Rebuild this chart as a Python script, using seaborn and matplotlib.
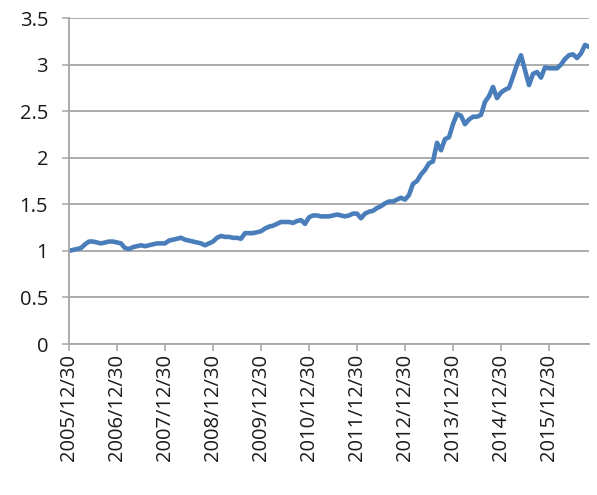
import matplotlib
matplotlib.use("Agg")
import matplotlib.pyplot as plt
import seaborn as sns
import pandas as pd

values = [
    1.00, 1.01, 1.02, 1.03, 1.07, 1.10, 1.10, 1.09, 1.08, 1.09,
    1.10, 1.10, 1.09, 1.08, 1.03, 1.02, 1.04, 1.05, 1.06, 1.05,
    1.06, 1.07, 1.08, 1.08, 1.08, 1.11, 1.12, 1.13, 1.14, 1.12,
    1.11, 1.10, 1.09, 1.08, 1.06, 1.08, 1.10, 1.14, 1.16, 1.15,
    1.15, 1.14, 1.14, 1.13, 1.19, 1.19, 1.19, 1.20, 1.21, 1.24,
    1.26, 1.27, 1.29, 1.31, 1.31, 1.31, 1.30, 1.32, 1.33, 1.29,
    1.36, 1.38, 1.38, 1.37, 1.37, 1.37, 1.38, 1.39, 1.38, 1.37,
    1.38, 1.40, 1.40, 1.35, 1.40, 1.42, 1.43, 1.46, 1.48, 1.51,
    1.53, 1.53, 1.55, 1.57, 1.55, 1.60, 1.72, 1.75, 1.82, 1.87,
    1.94, 1.96, 2.16, 2.08, 2.20, 2.22, 2.36, 2.47, 2.45, 2.36,
    2.41, 2.44, 2.44, 2.46, 2.60, 2.66, 2.76, 2.64, 2.70, 2.73,
    2.75, 2.87, 3.00, 3.10, 2.94, 2.78, 2.90, 2.92, 2.86, 2.97,
    2.96, 2.96, 2.96, 3.00, 3.06, 3.10, 3.11, 3.07, 3.12, 3.21,
    3.19,
]
tick_labels = ["2005/12/30", "2006/12/30", "2007/12/30", "2008/12/30",
               "2009/12/30", "2010/12/30", "2011/12/30", "2012/12/30",
               "2013/12/30", "2014/12/30", "2015/12/30"]
y_ticks = [0, 0.5, 1, 1.5, 2, 2.5, 3, 3.5]
y_tick_labels = ["0", "0.5", "1", "1.5", "2", "2.5", "3", "3.5"]

df = pd.DataFrame({"idx": range(len(values)), "value": values})

sns.set_style("white")
plt.rcParams["font.family"] = ["Open Sans", "DejaVu Sans"]

fig = plt.figure(figsize=(5.97, 4.95), dpi=100)
ax = fig.add_axes([69 / 597, 1 - 344 / 495, (589 - 69) / 597, (344 - 18) / 495])

sns.lineplot(data=df, x="idx", y="value", ax=ax, color="#4A7EBB", linewidth=3.3)

ax.set_xlim(0, len(values) - 1)
ax.set_ylim(0, 3.5)
ax.set_yticks(y_ticks)
ax.set_yticklabels(y_tick_labels)
ax.set_xticks([12 * i for i in range(len(tick_labels))])
ax.set_xticklabels(tick_labels, rotation=90)
ax.set_xlabel("")
ax.set_ylabel("")

grid_c = "#A6A6A6"
ax.yaxis.grid(True, color=grid_c, linewidth=1.3)
ax.xaxis.grid(False)
ax.set_axisbelow(True)
for s in ["top", "right"]:
    ax.spines[s].set_visible(False)
for s in ["left", "bottom"]:
    ax.spines[s].set_color(grid_c)
    ax.spines[s].set_linewidth(1.3)

ax.tick_params(axis="y", which="major", direction="out", length=5, width=1.1,
               color=grid_c, pad=10, labelsize=14.5, labelcolor="#1a1a1a", left=True)
ax.tick_params(axis="x", which="major", direction="out", length=5, width=1.1,
               color=grid_c, pad=2, labelsize=14.5, labelcolor="#1a1a1a", bottom=True)

fig.savefig("out.png", dpi=100)
